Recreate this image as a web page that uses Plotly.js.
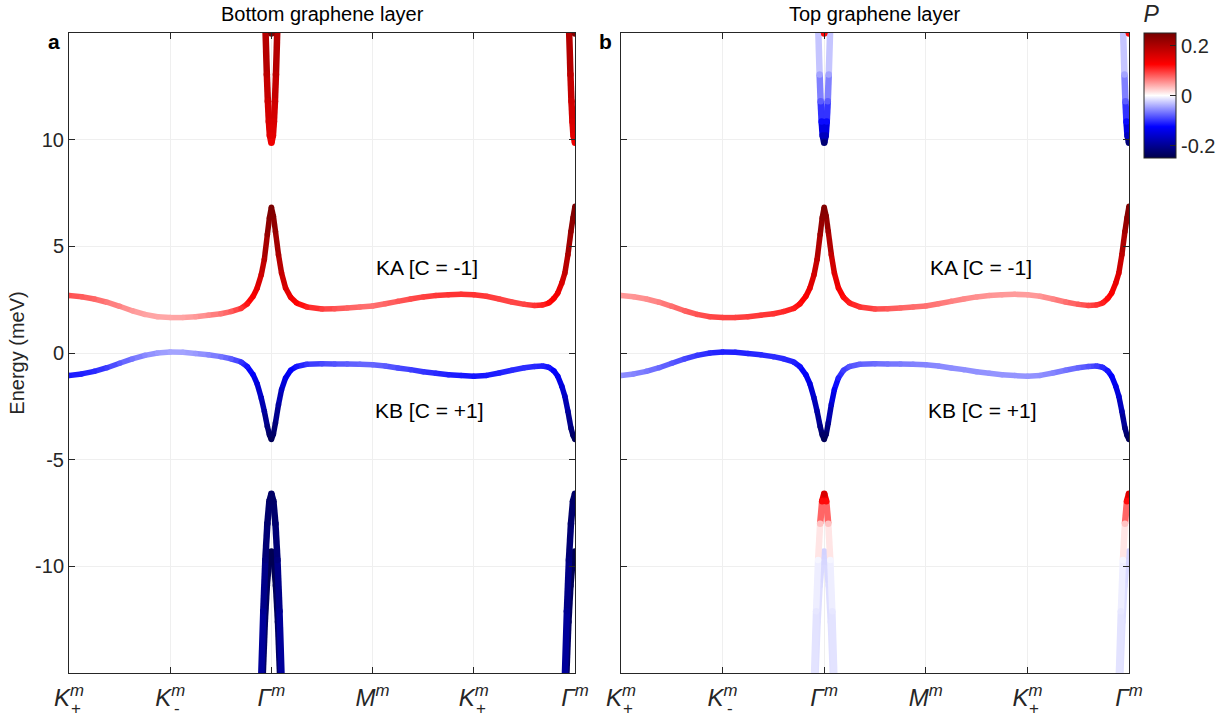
<!DOCTYPE html>
<html><head><meta charset="utf-8">
<script src="https://cdn.plot.ly/plotly-3.0.1.min.js"></script>
<style>html,body{margin:0;padding:0;background:#fff}#chart{width:1228px;height:718px}</style>
</head><body><div id="chart"></div>
<script>
// ---- data ----
const tickPos = [0, 1, 2, 3, 4, 5];
const tickLabels = ['<i>K</i><sup><i>m</i></sup>', '<i>K</i><sup><i>m</i></sup>', '<i>\u0393</i><sup><i>m</i></sup>', '<i>M</i><sup><i>m</i></sup>', '<i>K</i><sup><i>m</i></sup>', '<i>\u0393</i><sup><i>m</i></sup>'];
const tickSubs = ['+', '-', '', '', '+', ''];
const energyTicks = [-10, -5, 0, 5, 10];
const energyTickText = ['-10', '-5', '0', '5', '10'];

const kPath = [0,0.125,0.25,0.375,0.5,0.625,0.75,0.875,1,1.125,1.25,1.375,1.5,1.6,1.7,1.76,1.82,1.86,1.9,1.93,1.96,1.98,2,2.02,2.04,2.07,2.1,2.14,2.19,2.25,2.35,2.5,2.625,2.75,2.875,3,3.125,3.25,3.375,3.5,3.625,3.75,3.875,4,4.125,4.25,4.375,4.5,4.6,4.68,4.74,4.79,4.83,4.87,4.9,4.93,4.96,4.98,5];
const kaEnergy = [2.70,2.64,2.53,2.38,2.19,1.98,1.81,1.70,1.66,1.66,1.70,1.77,1.84,1.94,2.09,2.30,2.66,3.05,3.67,4.38,5.55,6.33,6.83,6.41,5.70,4.61,3.75,3.05,2.61,2.34,2.16,2.06,2.08,2.11,2.16,2.20,2.31,2.42,2.53,2.63,2.69,2.73,2.75,2.73,2.66,2.53,2.39,2.28,2.23,2.25,2.34,2.55,2.81,3.28,3.75,4.61,5.70,6.33,6.88];
const kbEnergy = [-1.06,-0.98,-0.86,-0.69,-0.48,-0.28,-0.11,0.0,0.05,0.03,-0.02,-0.08,-0.17,-0.27,-0.42,-0.63,-1.02,-1.45,-2.11,-2.73,-3.44,-3.83,-4.06,-3.80,-3.28,-2.42,-1.72,-1.17,-0.81,-0.63,-0.53,-0.50,-0.51,-0.52,-0.53,-0.55,-0.61,-0.70,-0.78,-0.88,-0.95,-1.02,-1.06,-1.09,-1.05,-0.94,-0.81,-0.69,-0.63,-0.61,-0.67,-0.83,-1.09,-1.56,-2.03,-2.73,-3.52,-3.86,-4.06];

// layer polarization P (bottom layer = panel a, top layer = panel b)
const kaP_bottom = [0.085,0.08,0.075,0.065,0.06,0.05,0.045,0.043,0.043,0.045,0.05,0.058,0.068,0.08,0.1,0.115,0.13,0.15,0.17,0.19,0.22,0.235,0.245,0.235,0.22,0.2,0.18,0.16,0.14,0.125,0.11,0.095,0.085,0.078,0.072,0.07,0.075,0.082,0.088,0.093,0.097,0.1,0.1,0.1,0.097,0.093,0.09,0.092,0.1,0.11,0.12,0.13,0.14,0.16,0.18,0.2,0.22,0.235,0.245];
const kbP_bottom = [-0.113,-0.11,-0.105,-0.095,-0.08,-0.068,-0.058,-0.05,-0.045,-0.045,-0.05,-0.058,-0.068,-0.08,-0.1,-0.115,-0.13,-0.15,-0.17,-0.19,-0.215,-0.23,-0.24,-0.23,-0.215,-0.19,-0.165,-0.14,-0.125,-0.115,-0.1,-0.09,-0.085,-0.08,-0.075,-0.075,-0.08,-0.088,-0.095,-0.1,-0.105,-0.11,-0.113,-0.115,-0.113,-0.11,-0.105,-0.103,-0.105,-0.11,-0.115,-0.125,-0.135,-0.15,-0.165,-0.19,-0.215,-0.23,-0.24];
const kaP_top = [0.05,0.052,0.056,0.062,0.07,0.078,0.085,0.09,0.092,0.093,0.095,0.098,0.1,0.105,0.112,0.12,0.13,0.145,0.165,0.185,0.21,0.23,0.24,0.23,0.21,0.18,0.155,0.135,0.12,0.11,0.1,0.09,0.082,0.076,0.072,0.07,0.066,0.062,0.058,0.055,0.052,0.05,0.049,0.048,0.052,0.06,0.07,0.08,0.09,0.1,0.11,0.12,0.13,0.145,0.16,0.185,0.21,0.23,0.24];
const kbP_top = [-0.055,-0.06,-0.066,-0.074,-0.082,-0.09,-0.098,-0.105,-0.11,-0.11,-0.108,-0.105,-0.103,-0.105,-0.11,-0.118,-0.13,-0.145,-0.165,-0.185,-0.21,-0.23,-0.24,-0.23,-0.2,-0.16,-0.13,-0.11,-0.095,-0.085,-0.078,-0.072,-0.068,-0.065,-0.062,-0.06,-0.058,-0.056,-0.055,-0.054,-0.053,-0.052,-0.052,-0.052,-0.055,-0.06,-0.068,-0.076,-0.085,-0.095,-0.105,-0.115,-0.125,-0.14,-0.155,-0.18,-0.21,-0.23,-0.24];

// remote bands around the Gamma points (k offset from Gamma)
const gammaPos = [2, 5];
const condDk = [-0.06,-0.045,-0.035,-0.025,-0.015,0,0.015,0.025,0.035,0.045,0.06];
const condE = [15.4,13.05,11.8,10.85,10.2,9.85,10.2,10.85,11.8,13.05,15.4];
const condP_bottom = [0.2,0.185,0.17,0.16,0.15,0.14,0.15,0.16,0.17,0.185,0.2];
const condP_top = [-0.012,-0.045,-0.08,-0.12,-0.17,-0.22,-0.17,-0.12,-0.08,-0.045,-0.012];
const cond2Dk = [-0.008,0,0.008];
const cond2E = [15.3,14.98,15.3];
const cond2P_bottom = [0.24,0.24,0.24];
const cond2P_top = [0.12,0.12,0.12];
const val1Dk = [-0.102,-0.08,-0.06,-0.04,-0.02,0,0.02,0.04,0.06,0.08,0.102];
const val1E = [-15.4,-12.1,-9.7,-8.0,-6.95,-6.6,-6.95,-8.0,-9.7,-12.1,-15.4];
const val1P_bottom = [-0.19,-0.2,-0.215,-0.225,-0.23,-0.23,-0.23,-0.225,-0.215,-0.2,-0.19];
const val1P_top = [-0.015,-0.012,-0.005,0.03,0.12,0.16,0.12,0.03,-0.005,-0.012,-0.015];
const val2Dk = [-0.088,-0.065,-0.045,-0.025,0,0.025,0.045,0.065,0.088];
const val2E = [-15.4,-12.6,-10.9,-9.8,-9.3,-9.8,-10.9,-12.6,-15.4];
const val2P_bottom = [-0.23,-0.235,-0.24,-0.245,-0.245,-0.245,-0.24,-0.235,-0.23];
const val2P_top = [-0.015,-0.015,-0.017,-0.02,-0.022,-0.02,-0.017,-0.015,-0.015];

const panelTitles = ['Bottom graphene layer', 'Top graphene layer'];
const panelLetters = ['a', 'b'];
const bandLabels = ['KA [C = -1]', 'KB [C = +1]'];

// ---- styling ----
const pScale = [[0,'#00004a'],[0.25,'#0000ff'],[0.5,'#ffffff'],[0.75,'#ff0000'],[1,'#760000']];
const pMin = -0.25, pMax = 0.25;
const ink = '#262626';
const FONT = '"Liberation Sans", Arial, Helvetica, sans-serif';

function hexToRgb(h){return [parseInt(h.slice(1,3),16),parseInt(h.slice(3,5),16),parseInt(h.slice(5,7),16)];}
function colorAt(p){
  let t = (p - pMin)/(pMax - pMin); t = Math.max(0, Math.min(1, t));
  for (let i = 0; i < pScale.length-1; i++){
    const a = pScale[i], b = pScale[i+1];
    if (t <= b[0]){
      const f = (t - a[0])/(b[0]-a[0]);
      const ca = hexToRgb(a[1]), cb = hexToRgb(b[1]);
      return 'rgb(' + ca.map((v,j)=>Math.round(v + (cb[j]-v)*f)).join(',') + ')';
    }
  }
  return pScale[pScale.length-1][1];
}

const traces = [];
let scaleShown = false;
function addBand(xs, es, ps, xa, ya, width){
  for (let i = 0; i < xs.length-1; i++){
    traces.push({type:'scatter', mode:'lines', x:[xs[i], xs[i+1]], y:[es[i], es[i+1]],
      xaxis:xa, yaxis:ya, hoverinfo:'skip', showlegend:false,
      line:{color: colorAt((ps[i]+ps[i+1])/2), width: width}});
  }
  const tr = {type:'scatter', mode:'markers', x: xs, y: es, xaxis:xa, yaxis:ya,
    hoverinfo:'skip', showlegend:false,
    marker:{size: width, color: ps, colorscale: pScale, cmin: pMin, cmax: pMax,
      line:{width:0}, showscale:false}};
  if (!scaleShown){
    scaleShown = true;
    tr.marker.showscale = true;
    tr.marker.colorbar = {
      x: 1144/1228, xanchor:'left', y: 1-2/718, yanchor:'top',
      len: 156/718, lenmode:'fraction', thickness: 32, xpad:0, ypad:0,
      outlinewidth:1, outlinecolor: ink,
      tickvals:[-0.2, 0, 0.2], ticktext:['-0.2','0','0.2'],
      ticks:'inside', ticklen:6, tickcolor: ink,
      tickfont:{family:FONT, size:20, color: ink},
      title:{text:'<i>P</i>', side:'top', font:{family:FONT, size:23, color: ink}}
    };
  }
  traces.push(tr);
}

const panels = [
  {xa:'x', ya:'y', ka:kaP_bottom, kb:kbP_bottom, cond:condP_bottom, cond2:cond2P_bottom, v1:val1P_bottom, v2:val2P_bottom},
  {xa:'x2', ya:'y2', ka:kaP_top, kb:kbP_top, cond:condP_top, cond2:cond2P_top, v1:val1P_top, v2:val2P_top}
];
panels.forEach(pn => {
  addBand(kPath, kaEnergy, pn.ka, pn.xa, pn.ya, 5.5);
  addBand(kPath, kbEnergy, pn.kb, pn.xa, pn.ya, 5.5);
  gammaPos.forEach(g => {
    addBand(val2Dk.map(d=>g+d), val2E, pn.v2, pn.xa, pn.ya, 6.5);
    addBand(val1Dk.map(d=>g+d), val1E, pn.v1, pn.xa, pn.ya, 6.5);
    addBand(condDk.map(d=>g+d), condE, pn.cond, pn.xa, pn.ya, 6.5);
    addBand(cond2Dk.map(d=>g+d), cond2E, pn.cond2, pn.xa, pn.ya, 6.5);
  });
});

const yDom = [1-673/718, 1-33/718];
function xAxis(dom){
  return {domain: dom, range:[0,5], tickvals: tickPos, ticktext: tickLabels,
    showline:true, linecolor: ink, linewidth:1, mirror:'ticks',
    ticks:'inside', ticklen:6, tickcolor: ink, showgrid:true, gridcolor:'#efefef', gridwidth:1,
    zeroline:false, ticklabelstandoff: 3,
    tickfont:{family:FONT, size:24, color: ink}, fixedrange:true};
}
function yAxis(dom, showLabels){
  return {domain: dom, range:[-15,15], tickvals: energyTicks, ticktext: energyTickText,
    showticklabels: showLabels,
    showline:true, linecolor: ink, linewidth:1, mirror:'ticks',
    ticks:'inside', ticklen:6, tickcolor: ink, showgrid:true, gridcolor:'#efefef', gridwidth:1,
    zeroline:false, ticklabelstandoff: 0,
    tickfont:{family:FONT, size:20, color: ink}, fixedrange:true};
}

const xDomA = [69/1228, 575/1228], xDomB = [621/1228, 1129/1228];
const layout = {
  width:1228, height:718, margin:{l:0,r:0,t:0,b:0},
  paper_bgcolor:'#ffffff', plot_bgcolor:'#ffffff', showlegend:false,
  xaxis: Object.assign(xAxis(xDomA), {anchor:'y'}),
  yaxis: Object.assign(yAxis(yDom, true), {anchor:'x',
    title:{text:'Energy (meV)', standoff: 5, font:{family:FONT, size:20, color: ink}}}),
  xaxis2: Object.assign(xAxis(xDomB), {anchor:'y2'}),
  yaxis2: Object.assign(yAxis(yDom, false), {anchor:'x2'}),
  annotations: []
};

// panel titles and letters
[xDomA, xDomB].forEach((dom, i) => {
  layout.annotations.push({xref:'paper', yref:'paper', x:(dom[0]+dom[1])/2, xanchor:'center', y:1-14/718, yanchor:'middle',
    text: panelTitles[i], showarrow:false, font:{family:FONT, size:20, color:'#000'}});
  layout.annotations.push({xref:'paper', yref:'paper', x:dom[0], xshift:-7, xanchor:'right', y:1-41/718, yanchor:'middle',
    text:'<b>' + panelLetters[i] + '</b>', showarrow:false, font:{family:FONT, size:21, color:'#000'}});
});
// band labels and valley subscripts
[['x','y'],['x2','y2']].forEach(ax => {
  layout.annotations.push({xref:ax[0], yref:ax[1], x:3.54, xanchor:'center', y:4.02, text: bandLabels[0], showarrow:false,
    font:{family:FONT, size:21, color:'#000'}});
  layout.annotations.push({xref:ax[0], yref:ax[1], x:3.56, xanchor:'center', y:-2.7, text: bandLabels[1], showarrow:false,
    font:{family:FONT, size:21, color:'#000'}});
  tickPos.forEach((t, i) => {
    if (tickSubs[i]) layout.annotations.push({xref:ax[0], yref:'paper', x:t, xshift:7, xanchor:'center', y:1-708/718, yanchor:'middle',
      text: tickSubs[i], showarrow:false, font:{family:FONT, size:17, color: ink}});
  });
});

Plotly.newPlot('chart', traces, layout, {staticPlot:true, displayModeBar:false});
</script>
</body></html>
